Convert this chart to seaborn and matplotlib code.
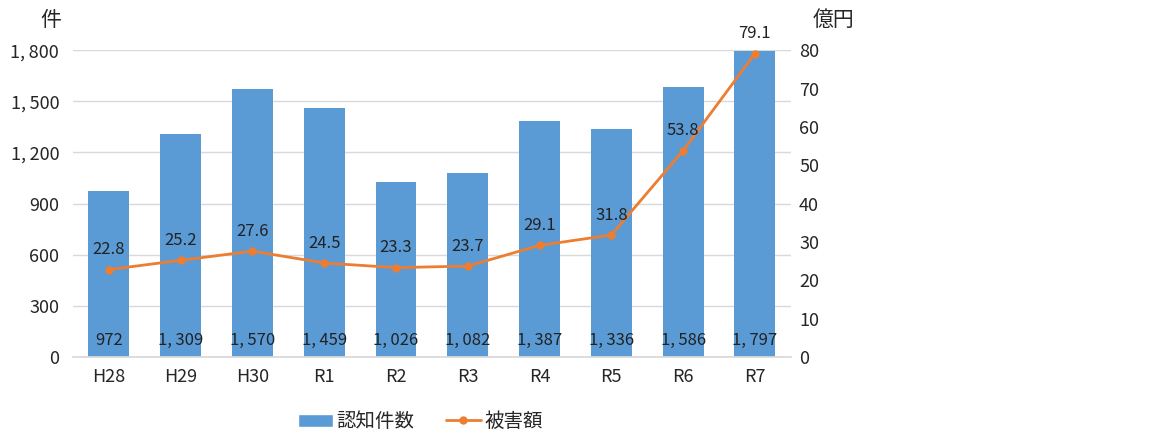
import numpy as np
import pandas as pd
import seaborn as sns
import matplotlib.pyplot as plt
from matplotlib.lines import Line2D
from matplotlib.patches import Patch

years = ['H28', 'H29', 'H30', 'R1', 'R2', 'R3', 'R4', 'R5', 'R6', 'R7']
cases = [972, 1309, 1570, 1459, 1026, 1082, 1387, 1336, 1586, 1797]
damage = [22.8, 25.2, 27.6, 24.5, 23.3, 23.7, 29.1, 31.8, 53.8, 79.1]

df = pd.DataFrame({'year': years, 'cases': cases, 'damage': damage})

sns.set_theme(style='white')
plt.rcParams['font.family'] = ['Noto Sans CJK JP', 'DejaVu Sans']

bar_c = '#5B9BD5'
line_c = '#ED7D31'


def fmt(v):
    return f'{v:,}'.replace(',', ',\u2009')


fig = plt.figure(figsize=(11.52, 4.44), dpi=100)
ax = fig.add_axes([0.0634, 0.196, 0.623, 0.691])

sns.barplot(data=df, x='year', y='cases', color=bar_c, width=0.57,
            saturation=1, linewidth=0, ax=ax)
ax.set_ylim(0, 1800)
ax.set_yticks(range(0, 1801, 300))
ax.set_yticklabels([fmt(v) for v in range(0, 1801, 300)], fontsize=13)
ax.set_xlabel('')
ax.set_ylabel('')
ax.set_xlim(-0.5, len(years) - 0.5)
ax.grid(axis='y', color='#D9D9D9', linewidth=1)
ax.set_axisbelow(True)
for s in ['top', 'left', 'right']:
    ax.spines[s].set_visible(False)
ax.spines['bottom'].set_color('#D9D9D9')
ax.tick_params(axis='x', labelsize=13, pad=8, length=0)
ax.tick_params(axis='y', length=0, pad=10)

for i, v in enumerate(cases):
    ax.text(i, 95, fmt(v), ha='center', va='center',
            fontsize=12, color='#222222')

ax2 = ax.twinx()
sns.lineplot(x=np.arange(len(years)), y=damage, color=line_c, linewidth=2,
             marker='o', markersize=6, markeredgewidth=0, ax=ax2)
ax2.set_ylim(0, 80)
ax2.set_yticks(range(0, 81, 10))
ax2.tick_params(axis='y', labelsize=13, length=0, pad=6)
for s in ['top', 'left', 'right', 'bottom']:
    ax2.spines[s].set_visible(False)
ax2.grid(False)

for i, v in enumerate(damage):
    ax2.text(i, v + 3.0, f'{v:.1f}', ha='center', va='bottom',
             fontsize=12, color='#222222')

fig.text(0.035, 0.955, '件', fontsize=15, ha='left', va='center')
fig.text(0.705, 0.955, '億円', fontsize=15, ha='left', va='center')

handles = [Patch(facecolor=bar_c, label='認知件数'),
           Line2D([], [], color=line_c, linewidth=2, marker='o',
                  markersize=5, label='被害額')]
fig.legend(handles=handles, loc='center', bbox_to_anchor=(0.365, 0.05),
           ncol=2, frameon=False, fontsize=14, handlelength=1.8,
           handletextpad=0.2, columnspacing=1.6)

fig.savefig('out.png', dpi=100)
